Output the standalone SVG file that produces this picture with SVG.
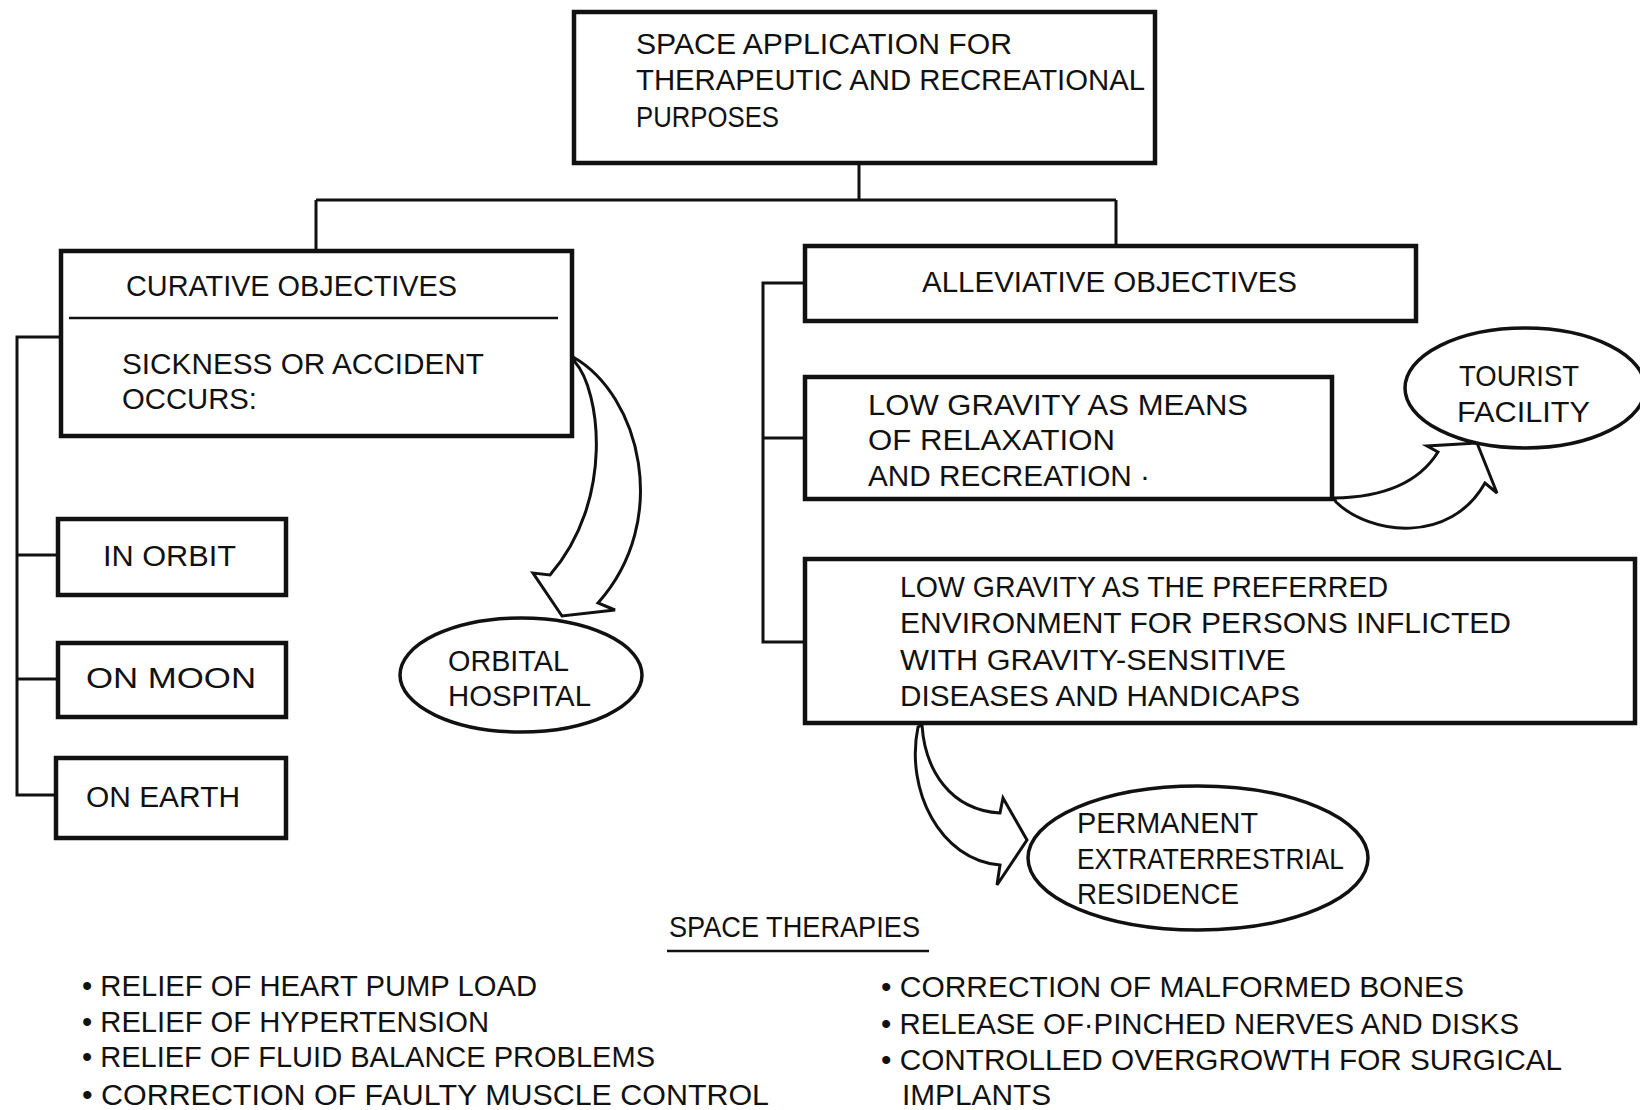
<svg xmlns="http://www.w3.org/2000/svg" width="1640" height="1110" viewBox="0 0 1640 1110">
<style>
  .t { font-family: "Liberation Sans", Arial, sans-serif; font-size: 30px; fill: #111; }
  .box { fill: #fff; stroke: #111; stroke-width: 4.5; }
  .ell { fill: #fff; stroke: #111; stroke-width: 3.5; }
  .ln { fill: none; stroke: #111; stroke-width: 3; }
  .arr { fill: #fff; stroke: #111; stroke-width: 3; stroke-linejoin: miter; }
</style>
<rect width="1640" height="1110" fill="#fff"/>

<g id="connectors">
  <path class="ln" d="M859 163 V200 M316 200 H1116 M316 200 V251 M1116 200 V246"/>
  <path class="ln" d="M60 337 H17 V795 H56 M17 555 H58 M17 679 H58"/>
  <path class="ln" d="M803 283 H763 V642 H803 M763 438 H803"/>
  <path class="arr" d="M573 357 C640 395 672 520 598 603 L615 610 L562 616 L533 573 L550 575 C615 500 600 390 575 362 Z"/>
  <path class="arr" d="M1334 498 Q1410 497 1438 452 L1427 446 L1477 443 L1497 493 L1485 483 C1450 545 1370 535 1336 502 Z"/>
  <path class="arr" d="M922 725 C925 770 950 810 1000 813 L1003 798 L1027 840 L997 885 L1000 865 C940 860 905 790 918 727 Z"/>
</g>

<g id="root">
  <rect class="box" x="574" y="12" width="581" height="151"/>
  <text class="t" x="636" y="54" textLength="376" lengthAdjust="spacingAndGlyphs">SPACE APPLICATION FOR</text>
  <text class="t" x="636" y="90" textLength="509" lengthAdjust="spacingAndGlyphs">THERAPEUTIC AND RECREATIONAL</text>
  <text class="t" x="636" y="127" textLength="143" lengthAdjust="spacingAndGlyphs">PURPOSES</text>
</g>

<g id="curative">
  <rect class="box" x="61" y="251" width="511" height="185"/>
  <line x1="69" y1="318" x2="558" y2="318" stroke="#111" stroke-width="2.5"/>
  <text class="t" x="126" y="296" textLength="331" lengthAdjust="spacingAndGlyphs">CURATIVE OBJECTIVES</text>
  <text class="t" x="122" y="374" textLength="362" lengthAdjust="spacingAndGlyphs">SICKNESS OR ACCIDENT</text>
  <text class="t" x="122" y="409" textLength="135" lengthAdjust="spacingAndGlyphs">OCCURS:</text>
</g>

<g id="in-orbit">
  <rect class="box" x="58" y="519" width="228" height="76"/>
  <text class="t" x="103" y="566" textLength="133" lengthAdjust="spacingAndGlyphs">IN ORBIT</text>
</g>
<g id="on-moon">
  <rect class="box" x="58" y="643" width="228" height="74"/>
  <text class="t" x="86" y="688" textLength="170" lengthAdjust="spacingAndGlyphs">ON MOON</text>
</g>
<g id="on-earth">
  <rect class="box" x="56" y="758" width="230" height="80"/>
  <text class="t" x="86" y="807" textLength="154" lengthAdjust="spacingAndGlyphs">ON EARTH</text>
</g>

<g id="orbital-hospital">
  <ellipse class="ell" cx="521" cy="675" rx="121" ry="57"/>
  <text class="t" x="448" y="671" textLength="121" lengthAdjust="spacingAndGlyphs">ORBITAL</text>
  <text class="t" x="448" y="706" textLength="143" lengthAdjust="spacingAndGlyphs">HOSPITAL</text>
</g>

<g id="alleviative">
  <rect class="box" x="805" y="246" width="611" height="75"/>
  <text class="t" x="922" y="292" textLength="375" lengthAdjust="spacingAndGlyphs">ALLEVIATIVE OBJECTIVES</text>
</g>

<g id="relaxation">
  <rect class="box" x="805" y="377" width="527" height="122"/>
  <text class="t" x="868" y="415" textLength="380" lengthAdjust="spacingAndGlyphs">LOW GRAVITY AS MEANS</text>
  <text class="t" x="868" y="450" textLength="247" lengthAdjust="spacingAndGlyphs">OF RELAXATION</text>
  <text class="t" x="868" y="486" textLength="282" lengthAdjust="spacingAndGlyphs">AND RECREATION ·</text>
</g>

<g id="tourist-facility">
  <ellipse class="ell" cx="1525" cy="388" rx="120" ry="60"/>
  <text class="t" x="1459" y="386" textLength="120" lengthAdjust="spacingAndGlyphs">TOURIST</text>
  <text class="t" x="1457" y="422" textLength="133" lengthAdjust="spacingAndGlyphs">FACILITY</text>
</g>

<g id="preferred-environment">
  <rect class="box" x="805" y="559" width="830" height="164"/>
  <text class="t" x="900" y="597" textLength="488" lengthAdjust="spacingAndGlyphs">LOW GRAVITY AS THE PREFERRED</text>
  <text class="t" x="900" y="633" textLength="611" lengthAdjust="spacingAndGlyphs">ENVIRONMENT FOR PERSONS INFLICTED</text>
  <text class="t" x="900" y="670" textLength="386" lengthAdjust="spacingAndGlyphs">WITH GRAVITY-SENSITIVE</text>
  <text class="t" x="900" y="706" textLength="400" lengthAdjust="spacingAndGlyphs">DISEASES AND HANDICAPS</text>
</g>

<g id="permanent-residence">
  <ellipse class="ell" cx="1198" cy="858" rx="170" ry="72"/>
  <text class="t" x="1077" y="833" textLength="181" lengthAdjust="spacingAndGlyphs">PERMANENT</text>
  <text class="t" x="1077" y="869" textLength="267" lengthAdjust="spacingAndGlyphs">EXTRATERRESTRIAL</text>
  <text class="t" x="1077" y="904" textLength="162" lengthAdjust="spacingAndGlyphs">RESIDENCE</text>
</g>

<g id="space-therapies">
  <text class="t" x="669" y="937" textLength="251" lengthAdjust="spacingAndGlyphs">SPACE THERAPIES</text>
  <line x1="667" y1="951" x2="929" y2="951" stroke="#111" stroke-width="2.5"/>
  <text class="t" x="82" y="996" textLength="455" lengthAdjust="spacingAndGlyphs">• RELIEF OF HEART PUMP LOAD</text>
  <text class="t" x="82" y="1032" textLength="407" lengthAdjust="spacingAndGlyphs">• RELIEF OF HYPERTENSION</text>
  <text class="t" x="82" y="1067" textLength="573" lengthAdjust="spacingAndGlyphs">• RELIEF OF FLUID BALANCE PROBLEMS</text>
  <text class="t" x="82" y="1105" textLength="687" lengthAdjust="spacingAndGlyphs">• CORRECTION OF FAULTY MUSCLE CONTROL</text>
  <text class="t" x="881" y="997" textLength="583" lengthAdjust="spacingAndGlyphs">• CORRECTION OF MALFORMED BONES</text>
  <text class="t" x="881" y="1034" textLength="638" lengthAdjust="spacingAndGlyphs">• RELEASE OF·PINCHED NERVES AND DISKS</text>
  <text class="t" x="881" y="1070" textLength="681" lengthAdjust="spacingAndGlyphs">• CONTROLLED OVERGROWTH FOR SURGICAL</text>
  <text class="t" x="902" y="1105" textLength="149" lengthAdjust="spacingAndGlyphs">IMPLANTS</text>
</g>
</svg>
